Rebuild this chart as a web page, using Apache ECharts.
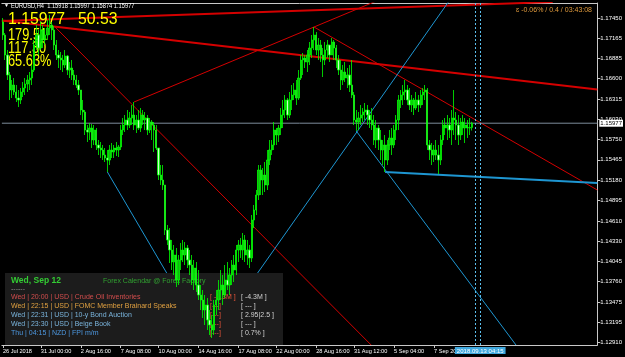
<!DOCTYPE html>
<html><head><meta charset="utf-8">
<script src="https://cdn.jsdelivr.net/npm/echarts@6/dist/echarts.min.js"></script>
<style>html,body{margin:0;padding:0;background:#000;}#c{width:625px;height:357px;}</style>
</head><body><div id="c"></div>
<script>
// ---------- DATA ----------
const symbolHeader = 'EURUSD,H4  1.15918 1.15997 1.15874 1.15977';
const firstOpen = 1.17394;
const highs = [
1.17450,1.17240,1.17002,1.16694,1.16582,1.16610,1.16512,1.16442,1.16470,1.16554,
1.16610,1.16652,1.16694,1.16792,1.17142,1.17352,1.17282,1.17394,1.17352,1.17310,
1.17422,1.17492,1.17394,1.17338,1.17142,1.17002,1.16974,1.16932,1.17002,1.16932,
1.16834,1.16862,1.16722,1.16652,1.16582,1.16442,1.16302,1.16162,1.15952,1.15980,
1.15966,1.15952,1.15910,1.15742,1.15714,1.15672,1.15630,1.15602,1.15672,1.15700,
1.15672,1.15714,1.15672,1.15952,1.16050,1.16092,1.16162,1.16134,1.16232,1.16274,
1.16092,1.16162,1.16190,1.16162,1.16134,1.16092,1.16050,1.16022,1.15994,1.15952,
1.15630,1.15392,1.15392,1.15112,1.14552,1.14510,1.14342,1.14272,1.14230,1.14132,
1.14300,1.14342,1.14314,1.14272,1.14202,1.14132,1.14062,1.14034,1.13922,1.13712,
1.13642,1.13572,1.13530,1.13362,1.13292,1.13502,1.13642,1.13782,1.13922,1.13852,
1.13992,1.14034,1.13950,1.14062,1.14132,1.14272,1.14342,1.14370,1.14440,1.14412,
1.14342,1.14272,1.14692,1.14832,1.15042,1.15392,1.15392,1.15350,1.15434,1.15602,
1.15742,1.15742,1.15994,1.15910,1.15952,1.16190,1.16302,1.16372,1.16330,1.16414,
1.16512,1.16540,1.16582,1.16722,1.16932,1.16960,1.16932,1.17002,1.17114,1.17212,
1.17324,1.17254,1.17170,1.17142,1.17030,1.17114,1.17142,1.17072,1.17170,1.17142,
1.17072,1.16932,1.16862,1.16792,1.16834,1.16750,1.16792,1.16862,1.16414,1.16162,
1.16134,1.16232,1.16190,1.16260,1.16232,1.16162,1.16190,1.16092,1.16022,1.15952,
1.15882,1.15742,1.15812,1.15742,1.15882,1.15910,1.15952,1.16092,1.16372,1.16442,
1.16512,1.16582,1.16512,1.16470,1.16372,1.16330,1.16414,1.16372,1.16442,1.16470,
1.16512,1.16470,1.15742,1.15700,1.15672,1.15742,1.15672,1.15812,1.16022,1.16050,
1.16092,1.16050,1.16162,1.16442,1.16134,1.16092,1.16050,1.16092,1.16050,1.16022,
1.16050,1.15997];
const lows = [
1.17142,1.16862,1.16582,1.16302,1.16330,1.16372,1.16274,1.16204,1.16246,1.16344,
1.16372,1.16414,1.16442,1.16512,1.16694,1.17002,1.16932,1.17002,1.17030,1.17072,
1.17142,1.17212,1.17142,1.17002,1.16862,1.16750,1.16722,1.16694,1.16750,1.16652,
1.16610,1.16582,1.16512,1.16470,1.16372,1.16092,1.16022,1.15812,1.15714,1.15742,
1.15630,1.15672,1.15602,1.15532,1.15490,1.15462,1.15434,1.15294,1.15392,1.15490,
1.15490,1.15518,1.15504,1.15602,1.15812,1.15854,1.15882,1.15910,1.15952,1.15882,
1.15840,1.15882,1.15854,1.15952,1.15882,1.15812,1.15840,1.15742,1.15574,1.15602,
1.15182,1.15112,1.15042,1.14412,1.14272,1.14020,1.13922,1.13852,1.13684,1.13712,
1.13922,1.14034,1.13992,1.13950,1.13852,1.13712,1.13642,1.13614,1.13502,1.13362,
1.13250,1.13152,1.13082,1.13012,1.12970,1.13012,1.13292,1.13362,1.13502,1.13432,
1.13530,1.13642,1.13572,1.13712,1.13754,1.13852,1.14034,1.14090,1.14062,1.14034,
1.13992,1.13950,1.14034,1.14510,1.14692,1.14902,1.14972,1.14972,1.15014,1.15042,
1.15392,1.15532,1.15602,1.15672,1.15714,1.15812,1.15910,1.16050,1.16022,1.16050,
1.16162,1.16302,1.16232,1.16302,1.16582,1.16652,1.16750,1.16694,1.16792,1.16890,
1.17002,1.16932,1.16862,1.16834,1.16624,1.16792,1.16890,1.16834,1.16932,1.16862,
1.16750,1.16652,1.16442,1.16512,1.16554,1.16470,1.16414,1.16330,1.15952,1.15868,
1.15882,1.15952,1.15994,1.16022,1.15952,1.15910,1.15882,1.15672,1.15630,1.15602,
1.15462,1.15392,1.15294,1.15392,1.15602,1.15532,1.15630,1.15742,1.15882,1.16190,
1.16232,1.16302,1.16232,1.16162,1.16134,1.16092,1.16162,1.16134,1.16190,1.16232,
1.16302,1.15602,1.15462,1.15392,1.15434,1.15462,1.15266,1.15392,1.15672,1.15812,
1.15742,1.15770,1.15672,1.15812,1.15742,1.15672,1.15742,1.15812,1.15700,1.15770,
1.15812,1.15874];
const closes = [
1.17212,1.16932,1.16652,1.16442,1.16512,1.16414,1.16330,1.16302,1.16414,1.16470,
1.16526,1.16582,1.16610,1.16722,1.17072,1.17212,1.17030,1.17282,1.17142,1.17212,
1.17310,1.17352,1.17282,1.17072,1.16932,1.16890,1.16862,1.16792,1.16918,1.16722,
1.16750,1.16652,1.16582,1.16512,1.16442,1.16162,1.16134,1.15882,1.15854,1.15910,
1.15742,1.15882,1.15672,1.15630,1.15602,1.15532,1.15490,1.15462,1.15602,1.15574,
1.15630,1.15602,1.15644,1.15882,1.15952,1.16022,1.15952,1.16050,1.16092,1.15952,
1.16022,1.15910,1.16092,1.16022,1.16050,1.15882,1.15994,1.15952,1.15882,1.15630,
1.15252,1.15182,1.15112,1.14482,1.14342,1.14202,1.14034,1.14132,1.13782,1.14062,
1.14202,1.14132,1.14230,1.14062,1.13992,1.13782,1.13950,1.13712,1.13572,1.13502,
1.13362,1.13432,1.13222,1.13152,1.13082,1.13432,1.13502,1.13642,1.13712,1.13572,
1.13782,1.13712,1.13852,1.13992,1.13922,1.14202,1.14272,1.14202,1.14342,1.14132,
1.14202,1.14090,1.14622,1.14762,1.14972,1.15322,1.15182,1.15252,1.15112,1.15462,
1.15602,1.15672,1.15882,1.15812,1.15910,1.16092,1.16162,1.16302,1.16092,1.16302,
1.16372,1.16442,1.16330,1.16610,1.16862,1.16890,1.16834,1.16932,1.17030,1.17142,
1.17212,1.17002,1.17072,1.16932,1.16862,1.17002,1.17072,1.16932,1.17114,1.17030,
1.16862,1.16722,1.16582,1.16694,1.16610,1.16652,1.16512,1.16372,1.16022,1.15994,
1.16050,1.16092,1.16134,1.16162,1.16092,1.16022,1.15952,1.15742,1.15910,1.15742,
1.15602,1.15672,1.15462,1.15672,1.15770,1.15672,1.15882,1.16022,1.16302,1.16372,
1.16414,1.16442,1.16302,1.16232,1.16302,1.16190,1.16302,1.16232,1.16372,1.16414,
1.16442,1.15672,1.15602,1.15532,1.15602,1.15532,1.15462,1.15742,1.15952,1.15910,
1.15952,1.15882,1.16050,1.16022,1.15952,1.15812,1.15994,1.15910,1.15952,1.15910,
1.15918,1.15977];
const lastPrice = 1.15977;
// x-axis tick labels (bar index -> text)
const xTickIdx = [0,17,35,53,70,88,106,123,141,158,176,194];
const xTickText = ['26 Jul 2018','31 Jul 00:00','2 Aug 16:00','7 Aug 08:00','10 Aug 00:00','14 Aug 16:00','17 Aug 08:00','22 Aug 00:00','28 Aug 16:00','31 Aug 12:00','5 Sep 04:00','7 Sep 20:00'];
// y-axis tick labels
const yTicks = [1.17450,1.17165,1.16885,1.16600,1.16315,1.16030,1.15750,1.15465,1.15180,1.14895,1.14610,1.14330,1.14045,1.13760,1.13475,1.13195,1.12910];
// trend line anchors [bar1, price1, bar2, price2]
const redLines = [
  [-0.5,1.17408,247.4,1.17674],
  [-0.5,1.17415,267.5,1.16449],
  [23,1.17338,165.7,1.12872],
  [59,1.16274,170,1.17713],
  [140,1.17324,267.5,1.15042]
];
const blueLines = [
  [47,1.15294,92.7,1.12872],
  [94,1.12970,201.1,1.17702],
  [159,1.15868,230.9,1.12872],
  [172,1.15294,267.5,1.15140]
];
const timeLines = [212.6, 214.8];
const timeLabel = '2018.09.13 04:15';
const statBig = ['1.15977','50.53'];
const statSmall = ['179.51','117.30','65.63%'];
const topRightInfo = 'ɛ -0.06% / 0.4 / 03:43:08';
const calTitle = 'Wed, Sep 12';
const calSource = 'Forex Calendar @ Forex Factory';
const calDays = ['Wed','Wed','Wed','Wed','Thu'];
const calTimes = ['20:00','22:15','22:31','23:30','04:15'];
const calCur = ['USD','USD','USD','USD','NZD'];
const calEvents = ['Crude Oil Inventories','FOMC Member Brainard Speaks','10-y Bond Auction','Beige Book','FPI m/m'];
const calActual = ['[ -1.3M ]','[---]','[---]','[---]','[---]'];
const calForecast = ['[ -4.3M ]','[ --- ]','[ 2.95|2.5 ]','[ --- ]','[ 0.7% ]'];

// ---------- BUILD ----------
const FONT = "'Liberation Sans', Arial, sans-serif";
const candles = closes.map((c, i) => {
  const o = i === 0 ? firstOpen : closes[i - 1];
  return [i, o, c, Math.min(lows[i], o, c), Math.max(highs[i], o, c)];
});
const X_MIN = -0.5, X_MAX = 267.5, Y_MIN = 1.12872, Y_MAX = 1.17660;
const lineSeries = [];
redLines.forEach((a, k) => lineSeries.push({
  type: 'line', data: [[a[0], a[1]], [a[2], a[3]]], symbol: 'none', silent: true, z: 1,
  lineStyle: { color: '#d40000', width: k < 2 ? 2 : 1 }, animation: false
}));
blueLines.forEach((a, k) => lineSeries.push({
  type: 'line', data: [[a[0], a[1]], [a[2], a[3]]], symbol: 'none', silent: true, z: 1,
  lineStyle: { color: '#1e96d2', width: k === 3 ? 2 : 1 }, animation: false
}));

const colors = ['#d24d4d', '#e0a040', '#7ab4dc', '#7ab4dc', '#4d98e0'];
const rowsY = [297, 306, 315, 324, 333];
const graphics = [
  { type: 'rect', z: 1.5, shape: { x: 5, y: 273, width: 278, height: 72 }, style: { fill: '#1c1c1c' } },
  { type: 'text', z: 5, x: 4, y: 6, style: { text: '▼', fill: '#fff', font: '5px ' + FONT, textVerticalAlign: 'middle' } },
  { type: 'text', z: 5, x: 11, y: 6, scaleX: 0.84, style: { text: symbolHeader, fill: '#fff', font: '6.8px ' + FONT, textVerticalAlign: 'middle' } },
  { type: 'text', z: 1.6, x: 8, y: 19, scaleX: 0.93, style: { text: statBig[0], fill: '#ffff00', font: '17px ' + FONT, textVerticalAlign: 'middle' } },
  { type: 'text', z: 1.6, x: 78, y: 19, scaleX: 0.93, style: { text: statBig[1], fill: '#ffff00', font: '17px ' + FONT, textVerticalAlign: 'middle' } },
  { type: 'text', z: 5, x: 592, y: 10, style: { text: topRightInfo, fill: '#e09a3c', font: '7px ' + FONT, textAlign: 'right', textVerticalAlign: 'middle' } },
  { type: 'text', z: 1.6, x: 11, y: 281, style: { text: calTitle, fill: '#33cc33', font: 'bold 8.5px ' + FONT, textVerticalAlign: 'middle' } },
  { type: 'text', z: 1.6, x: 103, y: 281, style: { text: calSource, fill: '#30a030', font: '7px ' + FONT, textVerticalAlign: 'middle' } },
  { type: 'text', z: 1.6, x: 11, y: 289, style: { text: '------', fill: '#909090', font: '7px ' + FONT, textVerticalAlign: 'middle' } }
];
statSmall.forEach((t, k) => graphics.push({ type: 'text', z: 1.6, x: 8, y: 35.5 + k * 13, scaleX: 0.8, style: { text: t, fill: '#ffff00', font: '16px ' + FONT, textVerticalAlign: 'middle' } }));
calEvents.forEach((ev, k) => {
  graphics.push({ type: 'text', z: 1.6, x: 11, y: rowsY[k], style: { text: calDays[k] + ' | ' + calTimes[k] + ' | ' + calCur[k] + ' | ' + ev, fill: colors[k], font: '7px ' + FONT, textVerticalAlign: 'middle' } });
  graphics.push({ type: 'text', z: 1.6, x: 210, y: rowsY[k], style: { text: calActual[k], fill: '#e8553a', font: '7px ' + FONT, textVerticalAlign: 'middle' } });
  graphics.push({ type: 'text', z: 1.6, x: 241, y: rowsY[k], style: { text: calForecast[k], fill: '#d0d0d0', font: '7px ' + FONT, textVerticalAlign: 'middle' } });
});

const chart = echarts.init(document.getElementById('c'), null, { renderer: 'canvas', width: 625, height: 357 });
chart.setOption({
  animation: false,
  backgroundColor: '#000000',
  grid: { left: 0, right: 25, top: 3, bottom: 12, containLabel: false },
  xAxis: [{
    type: 'value', min: X_MIN, max: X_MAX, position: 'bottom',
    axisLine: { show: true, onZero: false, lineStyle: { color: '#c8c8c8', width: 1 } },
    axisTick: { show: true, customValues: xTickIdx, length: 3, lineStyle: { color: '#c8c8c8' } },
    axisLabel: { customValues: xTickIdx, color: '#ffffff', fontSize: 5.6, fontFamily: FONT, align: 'left', margin: 3,
      formatter: v => { const k = xTickIdx.indexOf(Math.round(v)); return k >= 0 ? xTickText[k] : ''; } },
    splitLine: { show: false }
  }, {
    type: 'value', min: X_MIN, max: X_MAX, position: 'top',
    axisLine: { show: true, onZero: false, lineStyle: { color: '#c8c8c8', width: 1 } },
    axisTick: { show: false }, axisLabel: { show: false }, splitLine: { show: false }
  }],
  yAxis: {
    type: 'value', min: Y_MIN, max: Y_MAX, position: 'right', scale: true,
    axisLine: { show: true, onZero: false, lineStyle: { color: '#c8c8c8', width: 1 } },
    axisTick: { show: true, customValues: yTicks, length: 3, lineStyle: { color: '#c8c8c8' } },
    axisLabel: { customValues: yTicks, color: '#ffffff', fontSize: 6, fontFamily: FONT, margin: 3,
      formatter: v => v.toFixed(5) },
    splitLine: { show: false }
  },
  graphic: { elements: graphics },
  series: [
    ...lineSeries,
    {
      type: 'line', data: [[X_MIN, lastPrice], [X_MAX, lastPrice]], symbol: 'none', silent: true, z: 1,
      lineStyle: { color: '#7d8c9b', width: 1 },
      markLine: {
        symbol: 'none', silent: true, animation: false,
        lineStyle: { color: '#5cc0ee', type: [2, 2], width: 1 },
        label: { show: false },
        data: timeLines.map((t, k) => ({
          xAxis: t,
          label: k === timeLines.length - 1 ? { show: true, position: 'start', formatter: timeLabel, color: '#ffffff', backgroundColor: '#3fa8de', fontSize: 6, fontFamily: FONT, padding: [1, 2, 0, 2], distance: 2 } : { show: false }
        }))
      },
      endLabel: { show: true, formatter: lastPrice.toFixed(5), color: '#000', backgroundColor: '#ffffff', fontSize: 6, fontFamily: FONT, padding: [1, 1, 0, 1], distance: 2 }
    },
    {
      type: 'candlestick', z: 3, data: candles, encode: { x: 0, y: [1, 2, 3, 4] },
      barWidth: 1.8, silent: true,
      itemStyle: { color: '#13b313', color0: '#ccffcc', borderColor: '#00ff00', borderColor0: '#00ff00', borderWidth: 0.8 }
    }
  ]
});
</script></body></html>
